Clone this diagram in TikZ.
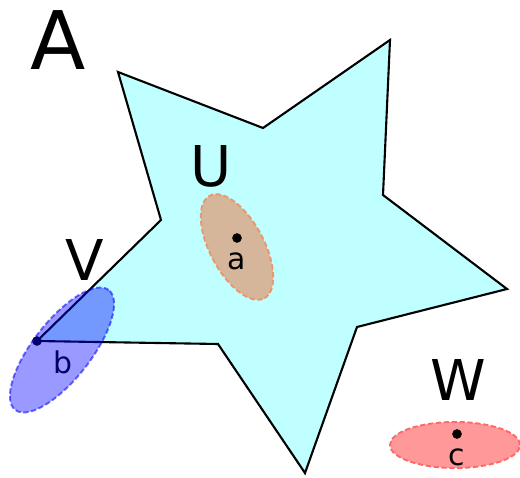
\documentclass[tikz,border=0pt]{standalone}
\usepackage{fontspec}
\setmainfont{DejaVu Sans}
\usetikzlibrary{positioning}
\definecolor{starfill}{RGB}{192,255,255}
\definecolor{tanfill}{RGB}{214,182,154}
\definecolor{tanline}{RGB}{236,150,110}
\definecolor{pinkfill}{RGB}{255,153,153}
\definecolor{pinkline}{RGB}{255,105,105}
\begin{document}
\begin{tikzpicture}[x=.02cm,y=.02cm,
  dot/.style={circle,fill=black,inner sep=0pt,minimum size=5.5pt},
  setname/.style={font=\fontsize{32}{32}\selectfont},
  ptname/.style={font=\fontsize{17}{17}\selectfont},
  nbhd/.style={line width=1.1pt,dash pattern=on 3pt off 1.5pt}]
\useasboundingbox (0,0) rectangle (520,477);
\draw[line width=1.2pt,fill=starfill] (118,405)--(263,349)--(390,437)--(383,282)--(507,188)--(357,150)--(305,4)--(218,133)--(37,136)--(161,257)--cycle;
\node[font=\fontsize{46}{46}\selectfont] (A) at (58,437) {A};
% neighbourhood of a
\coordinate (ua) at (237,230);
\draw[nbhd,draw=tanline,fill=tanfill,rotate around={-62:(ua)}] (ua) ellipse [x radius=58,y radius=27];
\node[dot] (a) at (237,239) {};
\node[ptname,below=2pt of a] (la) {a};
\node[setname] (U) at (211,311) {U};
% neighbourhood of b
\node[dot] (b) at (37,136) {};
\node[ptname] (lb) at (63,115) {b};
\node[setname] (V) at (85,217) {V};
\coordinate (vb) at (62,127);
\draw[nbhd,draw=blue,draw opacity=.55,fill=blue,fill opacity=.4,rotate around={52:(vb)}] (vb) ellipse [x radius=76,y radius=29];
% neighbourhood of c
\coordinate (wc) at (455,32);
\draw[nbhd,draw=pinkline,fill=pinkfill] (wc) ellipse [x radius=65,y radius=23];
\node[dot] (c) at (457,43) {};
\node[ptname,below=2pt of c] (lc) {c};
\node[setname] (W) at (458,97) {W};
\end{tikzpicture}
\end{document}
